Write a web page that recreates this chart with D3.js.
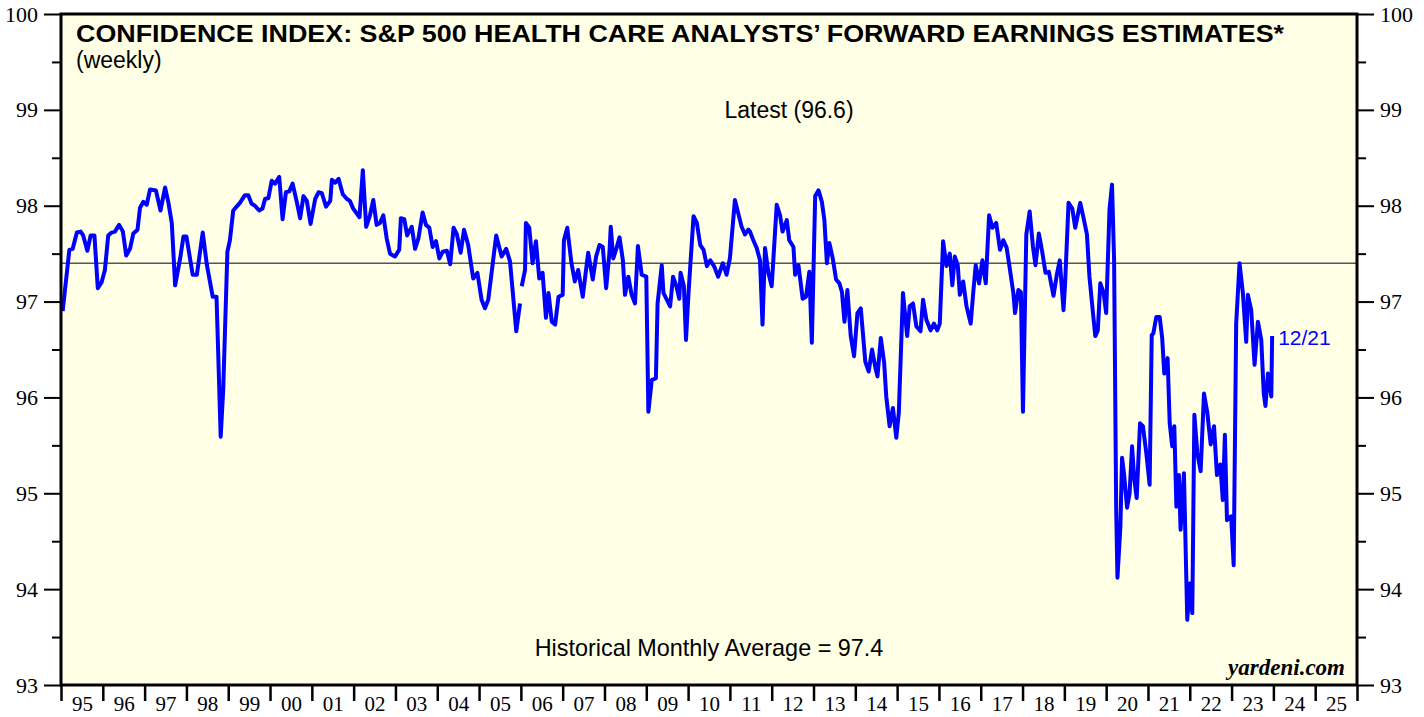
<!DOCTYPE html>
<html>
<head>
<meta charset="utf-8">
<script src="https://cdn.jsdelivr.net/npm/d3@7"></script>
<style>
  html, body { margin: 0; padding: 0; background: #fff; }
  svg { display: block; }
</style>
</head>
<body>
<svg id="chart" width="1424" height="717"></svg>
<script>
// weekly readings, decimal year (null = gap in the series)
const weekDates = [
  1995.04, 1995.20, 1995.28, 1995.38, 1995.47, 1995.53, 1995.63, 1995.71, 1995.80, 1995.88, 1995.97,
  1996.05, 1996.13, 1996.21, 1996.29, 1996.39, 1996.48, 1996.56, 1996.65, 1996.73, 1996.83, 1996.89, 1996.97,
  1997.05, 1997.13, 1997.27, 1997.38, 1997.49, 1997.57, 1997.65, 1997.73, 1997.85, 1997.93,
  1998.00, 1998.15, 1998.25, 1998.39, 1998.49, 1998.63, 1998.72, 1998.82, 1998.88, 1998.98,
  1999.04, 1999.12, 1999.20, 1999.28, 1999.40, 1999.48, 1999.56, 1999.64, 1999.74, 1999.82, 1999.88, 1999.96,
  2000.04, 2000.12, 2000.16, 2000.22, 2000.30, 2000.38, 2000.46, 2000.54, 2000.64, 2000.72, 2000.80, 2000.88, 2000.97,
  2001.08, 2001.16, 2001.24, 2001.34, 2001.44, 2001.48, 2001.56, 2001.64, 2001.74, 2001.84, 2001.91, 2001.99,
  2002.14, 2002.22, 2002.30, 2002.39, 2002.47, 2002.55, 2002.63, 2002.71, 2002.79, 2002.87, 2002.99,
  2003.09, 2003.13, 2003.21, 2003.28, 2003.39, 2003.47, 2003.55, 2003.65, 2003.73, 2003.81, 2003.89, 2003.97,
  2004.05, 2004.13, 2004.23, 2004.31, 2004.39, 2004.47, 2004.56, 2004.64, 2004.74, 2004.86, 2004.96,
  2005.06, 2005.14, 2005.22, 2005.41, 2005.54, 2005.65, 2005.74, 2005.89, 2005.98, 2006.00,
  2006.02, 2006.10, 2006.12, 2006.20, 2006.28, 2006.36, 2006.44, 2006.52, 2006.60, 2006.66, 2006.74, 2006.82, 2006.90,
  2007.00, 2007.03, 2007.11, 2007.21, 2007.29, 2007.37, 2007.48, 2007.61, 2007.72, 2007.80, 2007.88, 2007.96,
  2008.04, 2008.12, 2008.15, 2008.21, 2008.29, 2008.36, 2008.44, 2008.49, 2008.57, 2008.65, 2008.73, 2008.80, 2008.89,
  2009.00, 2009.05, 2009.13, 2009.23, 2009.27, 2009.37, 2009.41, 2009.49, 2009.57, 2009.64, 2009.72, 2009.79, 2009.82, 2009.90, 2009.95,
  2010.01, 2010.13, 2010.21, 2010.29, 2010.37, 2010.45, 2010.53, 2010.62, 2010.72, 2010.83, 2010.92,
  2011.00, 2011.12, 2011.20, 2011.28, 2011.36, 2011.44, 2011.48, 2011.56, 2011.64, 2011.72, 2011.78, 2011.84, 2011.92,
  2012.00, 2012.12, 2012.20, 2012.26, 2012.36, 2012.42, 2012.52, 2012.56, 2012.64, 2012.74, 2012.82, 2012.90, 2012.96,
  2013.04, 2013.12, 2013.20, 2013.26, 2013.32, 2013.38, 2013.46, 2013.54, 2013.62, 2013.68, 2013.74, 2013.81, 2013.89, 2013.97,
  2014.05, 2014.13, 2014.24, 2014.32, 2014.40, 2014.48, 2014.53, 2014.61, 2014.69, 2014.74, 2014.82, 2014.90, 2014.98,
  2015.04, 2015.14, 2015.24, 2015.30, 2015.38, 2015.46, 2015.56, 2015.62, 2015.70, 2015.80, 2015.88, 2015.96,
  2016.02, 2016.10, 2016.18, 2016.26, 2016.32, 2016.38, 2016.45, 2016.50, 2016.58, 2016.66, 2016.76, 2016.82, 2016.88, 2016.96,
  2017.04, 2017.12, 2017.20, 2017.28, 2017.37, 2017.46, 2017.54, 2017.62, 2017.70, 2017.78, 2017.82, 2017.90, 2017.96,
  2018.01, 2018.09, 2018.17, 2018.25, 2018.31, 2018.39, 2018.47, 2018.55, 2018.63, 2018.74, 2018.82, 2018.89, 2018.98,
  2019.02, 2019.10, 2019.19, 2019.26, 2019.38, 2019.46, 2019.54, 2019.60, 2019.68, 2019.74, 2019.80, 2019.86, 2019.94,
  2020.00, 2020.08, 2020.14, 2020.19, 2020.24, 2020.27, 2020.34, 2020.38, 2020.43, 2020.50, 2020.56, 2020.62, 2020.67, 2020.73, 2020.81, 2020.88, 2020.96,
  2021.04, 2021.09, 2021.13, 2021.20, 2021.28, 2021.34, 2021.39, 2021.47, 2021.52, 2021.58, 2021.63, 2021.68, 2021.74, 2021.78, 2021.86, 2021.94,
  2022.00, 2022.06, 2022.11, 2022.18, 2022.26, 2022.34, 2022.42, 2022.50, 2022.58, 2022.65, 2022.73, 2022.79, 2022.84, 2022.89, 2022.99,
  2023.05, 2023.11, 2023.19, 2023.27, 2023.35, 2023.39, 2023.47, 2023.55, 2023.63, 2023.71, 2023.77, 2023.81, 2023.87, 2023.95, 2023.97
];

const confidence = [
  96.90, 97.54, 97.55, 97.72, 97.73, 97.69, 97.53, 97.69, 97.69, 97.14, 97.20,
  97.33, 97.69, 97.72, 97.73, 97.80, 97.73, 97.48, 97.55, 97.71, 97.75, 97.98, 98.04,
  98.01, 98.17, 98.16, 97.95, 98.19, 98.03, 97.82, 97.17, 97.45, 97.68,
  97.68, 97.28, 97.28, 97.72, 97.38, 97.05, 97.05, 95.59, 96.08, 97.52,
  97.64, 97.95, 97.99, 98.03, 98.11, 98.11, 98.02, 98.00, 97.95, 97.97, 98.07, 98.08,
  98.26, 98.23, 98.26, 98.30, 97.86, 98.14, 98.15, 98.23, 98.04, 97.87, 98.10, 98.05, 97.81,
  98.07, 98.14, 98.13, 97.99, 98.05, 98.27, 98.24, 98.28, 98.12, 98.07, 98.05, 97.97,
  97.88, 98.37, 97.78, 97.90, 98.06, 97.80, 97.82, 97.90, 97.66, 97.50, 97.47,
  97.54, 97.87, 97.86, 97.69, 97.78, 97.55, 97.66, 97.93, 97.80, 97.77, 97.57, 97.63,
  97.45, 97.52, 97.53, 97.39, 97.77, 97.70, 97.51, 97.75, 97.59, 97.24, 97.30,
  97.02, 96.93, 97.02, 97.69, 97.47, 97.55, 97.42, 96.69, 96.98, null,
  97.16, 97.33, 97.82, 97.77, 97.40, 97.63, 97.24, 97.30, 96.83, 97.09, 96.79, 96.76, 97.05,
  97.07, 97.64, 97.77, 97.40, 97.21, 97.33, 97.05, 97.51, 97.23, 97.47, 97.59, 97.57,
  97.14, 97.52, 97.78, 97.45, 97.56, 97.67, 97.43, 97.07, 97.26, 97.07, 96.98, 97.58, 97.28,
  97.26, 95.85, 96.18, 96.20, 96.98, 97.38, 97.09, 97.02, 96.95, 97.26, 97.16, 97.03, 97.30, 97.16, 96.60,
  97.09, 97.89, 97.82, 97.59, 97.54, 97.37, 97.43, 97.37, 97.26, 97.40, 97.28,
  97.45, 98.06, 97.92, 97.78, 97.70, 97.75, 97.73, 97.64, 97.56, 97.43, 96.76, 97.56, 97.30,
  97.16, 98.01, 97.90, 97.73, 97.85, 97.64, 97.57, 97.28, 97.38, 97.03, 97.05, 97.31, 96.57,
  98.10, 98.16, 98.04, 97.85, 97.40, 97.61, 97.45, 97.23, 97.19, 97.10, 96.79, 97.12, 96.64, 96.43,
  96.88, 96.93, 96.37, 96.27, 96.50, 96.31, 96.22, 96.62, 96.36, 96.01, 95.70, 95.89, 95.58,
  95.84, 97.09, 96.64, 96.95, 96.98, 96.74, 96.69, 97.02, 96.81, 96.70, 96.77, 96.70,
  96.77, 97.63, 97.37, 97.50, 97.17, 97.47, 97.38, 97.07, 97.21, 96.95, 96.77, 97.09, 97.38, 97.19,
  97.43, 97.19, 97.90, 97.77, 97.82, 97.54, 97.64, 97.56, 97.33, 97.09, 96.88, 97.12, 97.10,
  95.85, 97.70, 97.94, 97.57, 97.38, 97.71, 97.52, 97.30, 97.31, 97.06, 97.28, 97.43, 96.91,
  97.21, 98.03, 97.97, 97.77, 98.03, 97.87, 97.70, 97.26, 96.90, 96.64, 96.70, 97.19, 97.09,
  96.88, 97.96, 98.22, 97.43, 94.83, 94.12, 94.65, 95.37, 95.19, 94.85, 95.00, 95.49, 95.16, 94.95, 95.73, 95.70, 95.42,
  95.09, 96.65, 96.67, 96.84, 96.84, 96.62, 96.25, 96.41, 95.73, 95.49, 95.70, 94.86, 95.19, 94.62, 95.21, 93.68,
  94.06, 93.75, 95.82, 95.42, 95.23, 96.04, 95.84, 95.51, 95.70, 95.19, 95.30, 94.93, 95.61, 94.72, 94.76,
  94.25, 96.77, 97.40, 97.09, 96.58, 97.07, 96.91, 96.34, 96.79, 96.60, 96.04, 95.91, 96.25, 96.01, 96.64
];

const yearStarts = d3.range(1995, 2027);
const yearLabels = ["95","96","97","98","99","00","01","02","03","04","05","06","07","08","09",
  "10","11","12","13","14","15","16","17","18","19","20","21","22","23","24","25"];
const yMajorTicks = [93, 94, 95, 96, 97, 98, 99, 100];
const yMinorTicks = [93.5, 94.5, 95.5, 96.5, 97.5, 98.5, 99.5];
const historicalAverage = 97.4;
const latestValue = 96.6;
const latestDate = "12/21";

const svg = d3.select("#chart");
const plotLeft = 61, plotRight = 1357, plotTop = 14, plotBottom = 685;

const x = d3.scaleLinear().domain([1995, 2026]).range([plotLeft, plotRight]);
const y = d3.scaleLinear().domain([93, 100]).range([plotBottom, plotTop]);

const serif = "'Liberation Serif', 'Times New Roman', serif";
const sans = "'Liberation Sans', Arial, sans-serif";

// plot background
svg.append("rect")
  .attr("x", plotLeft).attr("y", plotTop)
  .attr("width", plotRight - plotLeft).attr("height", plotBottom - plotTop)
  .attr("fill", "#FFFFE6");

// left axis
const yLeft = svg.append("g").attr("transform", `translate(${plotLeft},0)`);
yLeft.call(d3.axisLeft(y).tickValues(yMajorTicks).tickSize(17).tickPadding(6).tickFormat(d3.format("d")));
const yLeftMinor = svg.append("g").attr("transform", `translate(${plotLeft},0)`);
yLeftMinor.call(d3.axisLeft(y).tickValues(yMinorTicks).tickSize(9).tickFormat(""));

// right axis
const yRight = svg.append("g").attr("transform", `translate(${plotRight},0)`);
yRight.call(d3.axisRight(y).tickValues(yMajorTicks).tickSize(17).tickPadding(6).tickFormat(d3.format("d")));
const yRightMinor = svg.append("g").attr("transform", `translate(${plotRight},0)`);
yRightMinor.call(d3.axisRight(y).tickValues(yMinorTicks).tickSize(9).tickFormat(""));

// bottom axis: ticks at year starts, labels mid-year
const xTicks = svg.append("g").attr("transform", `translate(0,${plotBottom})`);
xTicks.call(d3.axisBottom(x).tickValues(yearStarts).tickSize(16).tickFormat(""));
const xLabels = svg.append("g").attr("transform", `translate(0,${plotBottom})`);
xLabels.call(d3.axisBottom(x).tickValues(yearStarts.slice(0, -1).map(d => d + 0.5))
  .tickSize(0).tickPadding(11).tickFormat((d, i) => yearLabels[i]));

svg.selectAll(".domain").remove();
svg.selectAll(".tick line").attr("stroke", "#000").attr("stroke-width", 2);
xTicks.selectAll(".tick line").attr("stroke-width", 2.5);
svg.selectAll(".tick text")
  .attr("font-family", serif).attr("font-size", 22).attr("fill", "#000");
xLabels.selectAll(".tick text").attr("font-size", 21);

// average line
svg.append("line")
  .attr("x1", plotLeft).attr("x2", plotRight)
  .attr("y1", y(historicalAverage)).attr("y2", y(historicalAverage))
  .attr("stroke", "#555").attr("stroke-width", 1.5);

// series
const points = weekDates.map((d, i) => ({ t: d, v: confidence[i] }));
const line = d3.line()
  .defined(d => d.v !== null)
  .x(d => x(d.t))
  .y(d => y(d.v));

svg.append("path")
  .datum(points)
  .attr("fill", "none")
  .attr("stroke", "#0000FF")
  .attr("stroke-width", 4)
  .attr("stroke-linejoin", "round")
  .attr("d", line);

// frame
svg.append("rect")
  .attr("x", plotLeft).attr("y", plotTop)
  .attr("width", plotRight - plotLeft).attr("height", plotBottom - plotTop)
  .attr("fill", "none").attr("stroke", "#000").attr("stroke-width", 3);

// texts
svg.append("text")
  .attr("x", 76).attr("y", 42)
  .attr("font-family", sans).attr("font-weight", "bold").attr("font-size", 23)
  .attr("textLength", 1208).attr("lengthAdjust", "spacingAndGlyphs")
  .text("CONFIDENCE INDEX: S&P 500 HEALTH CARE ANALYSTS\u2019 FORWARD EARNINGS ESTIMATES*");

svg.append("text")
  .attr("x", 76).attr("y", 68)
  .attr("font-family", sans).attr("font-size", 23)
  .text("(weekly)");

svg.append("text")
  .attr("x", 789).attr("y", 118)
  .attr("text-anchor", "middle")
  .attr("font-family", sans).attr("font-size", 23)
  .text(`Latest (${latestValue})`);

svg.append("text")
  .attr("x", 709).attr("y", 656)
  .attr("text-anchor", "middle")
  .attr("font-family", sans).attr("font-size", 23.4)
  .text(`Historical Monthly Average = ${historicalAverage}`);

svg.append("text")
  .attr("x", x(weekDates[weekDates.length - 1]) + 6).attr("y", 345)
  .attr("font-family", sans).attr("font-size", 21)
  .attr("fill", "#0000FF")
  .text(latestDate);

svg.append("text")
  .attr("x", 1345).attr("y", 675)
  .attr("text-anchor", "end")
  .attr("font-family", serif).attr("font-weight", "bold").attr("font-style", "italic")
  .attr("font-size", 23)
  .text("yardeni.com");
</script>
</body>
</html>
